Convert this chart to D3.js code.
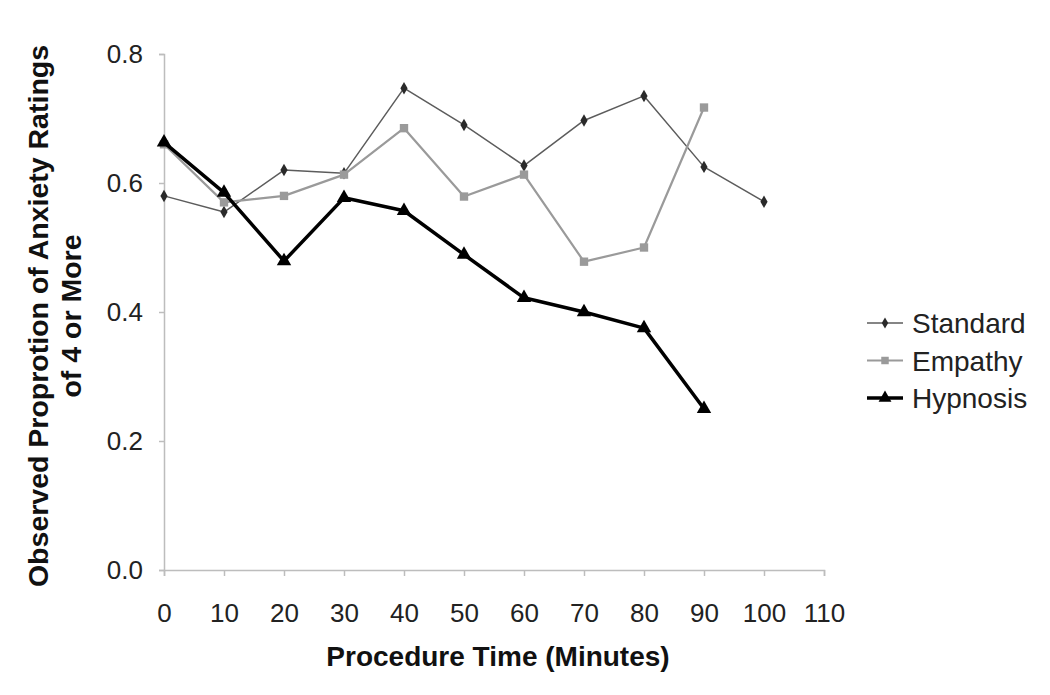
<!DOCTYPE html>
<html>
<head>
<meta charset="utf-8">
<script src="https://cdn.jsdelivr.net/npm/d3@7"></script>
<style>
  body { margin: 0; background: #fff; }
  text { font-family: "Liberation Sans", Arial, sans-serif; }
</style>
</head>
<body>
<div id="chart"></div>
<script>
// data
var times = [0, 10, 20, 30, 40, 50, 60, 70, 80, 90, 100];
var standard = [0.58, 0.555, 0.62, 0.615, 0.747, 0.69, 0.627, 0.697, 0.735, 0.625, 0.571];
var empathy  = [0.66, 0.57, 0.58, 0.613, 0.685, 0.579, 0.613, 0.478, 0.50, 0.717];
var hypnosis = [0.663, 0.585, 0.479, 0.577, 0.557, 0.489, 0.422, 0.40, 0.375, 0.25];
var seriesNames = ["Standard", "Empathy", "Hypnosis"];
var xTicks = [0, 10, 20, 30, 40, 50, 60, 70, 80, 90, 100, 110];
var yTicks = [0, 0.2, 0.4, 0.6, 0.8];

var width = 1050, height = 695;
var margin = {left: 164, top: 54, right: 226, bottom: 125};

var x = d3.scaleLinear().domain([0, 110]).range([margin.left, width - margin.right]);
var y = d3.scaleLinear().domain([0, 0.8]).range([height - margin.bottom, margin.top]);

var svg = d3.select("#chart").append("svg")
    .attr("width", width).attr("height", height);

// axes
var xAxis = svg.append("g")
    .attr("transform", "translate(0," + y(0) + ")")
    .call(d3.axisBottom(x).tickValues(xTicks).tickSize(6).tickPadding(28));
var yAxis = svg.append("g")
    .attr("transform", "translate(" + x(0) + ",0)")
    .call(d3.axisLeft(y).tickValues(yTicks).tickSize(5).tickPadding(16).tickFormat(d3.format(".1f")));

[xAxis, yAxis].forEach(function(a) {
    a.select(".domain").attr("stroke", "#bdbdbd").attr("stroke-width", 1.5);
    a.selectAll(".tick line").attr("stroke", "#bdbdbd").attr("stroke-width", 1.5);
    a.selectAll(".tick text").attr("font-size", 26).attr("fill", "#222");
});

// axis titles
svg.append("text")
    .attr("x", 498).attr("y", 666)
    .attr("text-anchor", "middle")
    .attr("font-size", 28).attr("font-weight", "bold").attr("fill", "#111")
    .text("Procedure Time (Minutes)");

var yTitle = svg.append("text")
    .attr("transform", "translate(48,316) rotate(-90)")
    .attr("text-anchor", "middle")
    .attr("font-size", 28.5).attr("font-weight", "bold").attr("fill", "#111");
yTitle.append("tspan").attr("x", 0).attr("dy", 0).text("Observed Proprotion of Anxiety Ratings");
yTitle.append("tspan").attr("x", 0).attr("dy", 33).text("of 4 or More");

// series
var series = [
    {name: "Standard", values: standard, line: "#5c5c5c", mark: "#2a2a2a", width: 1.5, shape: d3.symbolDiamond, size: 45},
    {name: "Empathy", values: empathy, line: "#9a9a9a", mark: "#9a9a9a", width: 2.2, shape: d3.symbolSquare, size: 70},
    {name: "Hypnosis", values: hypnosis, line: "#000", mark: "#000", width: 3.5, shape: d3.symbolTriangle, size: 90}
];

var line = d3.line()
    .x(function(d, i) { return x(times[i]); })
    .y(function(d) { return y(d); });

series.forEach(function(s) {
    var g = svg.append("g");
    g.append("path")
        .attr("d", line(s.values))
        .attr("fill", "none")
        .attr("stroke", s.line)
        .attr("stroke-width", s.width)
        .attr("stroke-linejoin", "round");
    g.selectAll("path.pt")
        .data(s.values)
        .enter()
        .append("path")
        .attr("class", "pt")
        .attr("transform", function(d, i) { return "translate(" + x(times[i]) + "," + y(d) + ")"; })
        .attr("d", d3.symbol().type(s.shape).size(s.size))
        .attr("fill", s.mark);
});

// legend
var legend = svg.append("g").attr("transform", "translate(867,323)");
series.forEach(function(s, i) {
    var row = legend.append("g").attr("transform", "translate(0," + (i * 37.5) + ")");
    row.append("line")
        .attr("x1", 0).attr("x2", 36)
        .attr("stroke", s.line).attr("stroke-width", s.width);
    row.append("path")
        .attr("transform", "translate(18,0)")
        .attr("d", d3.symbol().type(s.shape).size(s.size * 0.8))
        .attr("fill", s.mark);
    row.append("text")
        .attr("x", 45).attr("y", 0).attr("dy", "0.36em")
        .attr("font-size", 28).attr("fill", "#222")
        .text(s.name);
});
</script>
</body>
</html>
